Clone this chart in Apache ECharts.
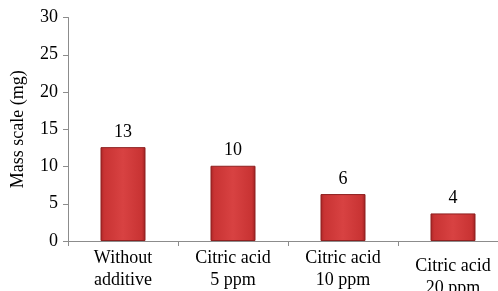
<!DOCTYPE html>
<html><head><meta charset="utf-8">
<script src="https://cdn.jsdelivr.net/npm/echarts@6/dist/echarts.min.js"></script>
<style>html,body{margin:0;padding:0;background:#fff;}#c{width:498px;height:291px;}</style>
</head><body><div id="c"></div>
<script>
const categories = ['Without\nadditive', 'Citric acid\n5 ppm', 'Citric acid\n10 ppm', 'Citric acid\n20 ppm'];
const values = [12.6, 10.1, 6.3, 3.7];
const barLabels = ['13', '10', '6', '4'];
const yTicks = [0, 5, 10, 15, 20, 25, 30];

const font = 'Liberation Serif';
const chart = echarts.init(document.getElementById('c'));
chart.setOption({
  animation: false,
  grid: { left: 68, top: 17.5, bottom: 50, width: 440, containLabel: false, outerBoundsMode: 'none' },
  xAxis: {
    type: 'category',
    data: categories.map((c, i) => i === 3 ? { value: c, textStyle: { padding: [8, 0, 0, 0] } } : c),
    axisLine: { lineStyle: { color: '#8c8c8c', width: 1 } },
    axisTick: { show: true, length: 5, alignWithLabel: false, lineStyle: { color: '#8c8c8c' } },
    axisLabel: { color: '#000', fontFamily: font, fontSize: 18, lineHeight: 22, margin: 6, interval: 0 }
  },
  yAxis: {
    type: 'value', min: yTicks[0], max: yTicks[yTicks.length - 1], interval: 5,
    name: 'Mass scale (mg)', nameLocation: 'middle', nameGap: 41,
    nameTextStyle: { color: '#000', fontFamily: font, fontSize: 18 },
    axisLine: { show: true, lineStyle: { color: '#8c8c8c', width: 1 } },
    axisTick: { show: true, length: 5, lineStyle: { color: '#8c8c8c' } },
    splitLine: { show: false },
    axisLabel: { color: '#000', fontFamily: font, fontSize: 18, margin: 10 }
  },
  series: [{
    type: 'bar',
    data: values,
    barWidth: 45,
    itemStyle: {
      color: new echarts.graphic.LinearGradient(0, 0, 1, 0, [
        { offset: 0, color: '#a52525' },
        { offset: 0.08, color: '#c83333' },
        { offset: 0.5, color: '#d84242' },
        { offset: 0.92, color: '#c83333' },
        { offset: 1, color: '#9c2020' }
      ]),
      borderColor: '#8e2020', borderWidth: 1
    },
    label: {
      show: true, position: 'top', distance: 6,
      formatter: p => barLabels[p.dataIndex],
      color: '#000', fontFamily: font, fontSize: 18
    }
  }]
});
</script></body></html>
